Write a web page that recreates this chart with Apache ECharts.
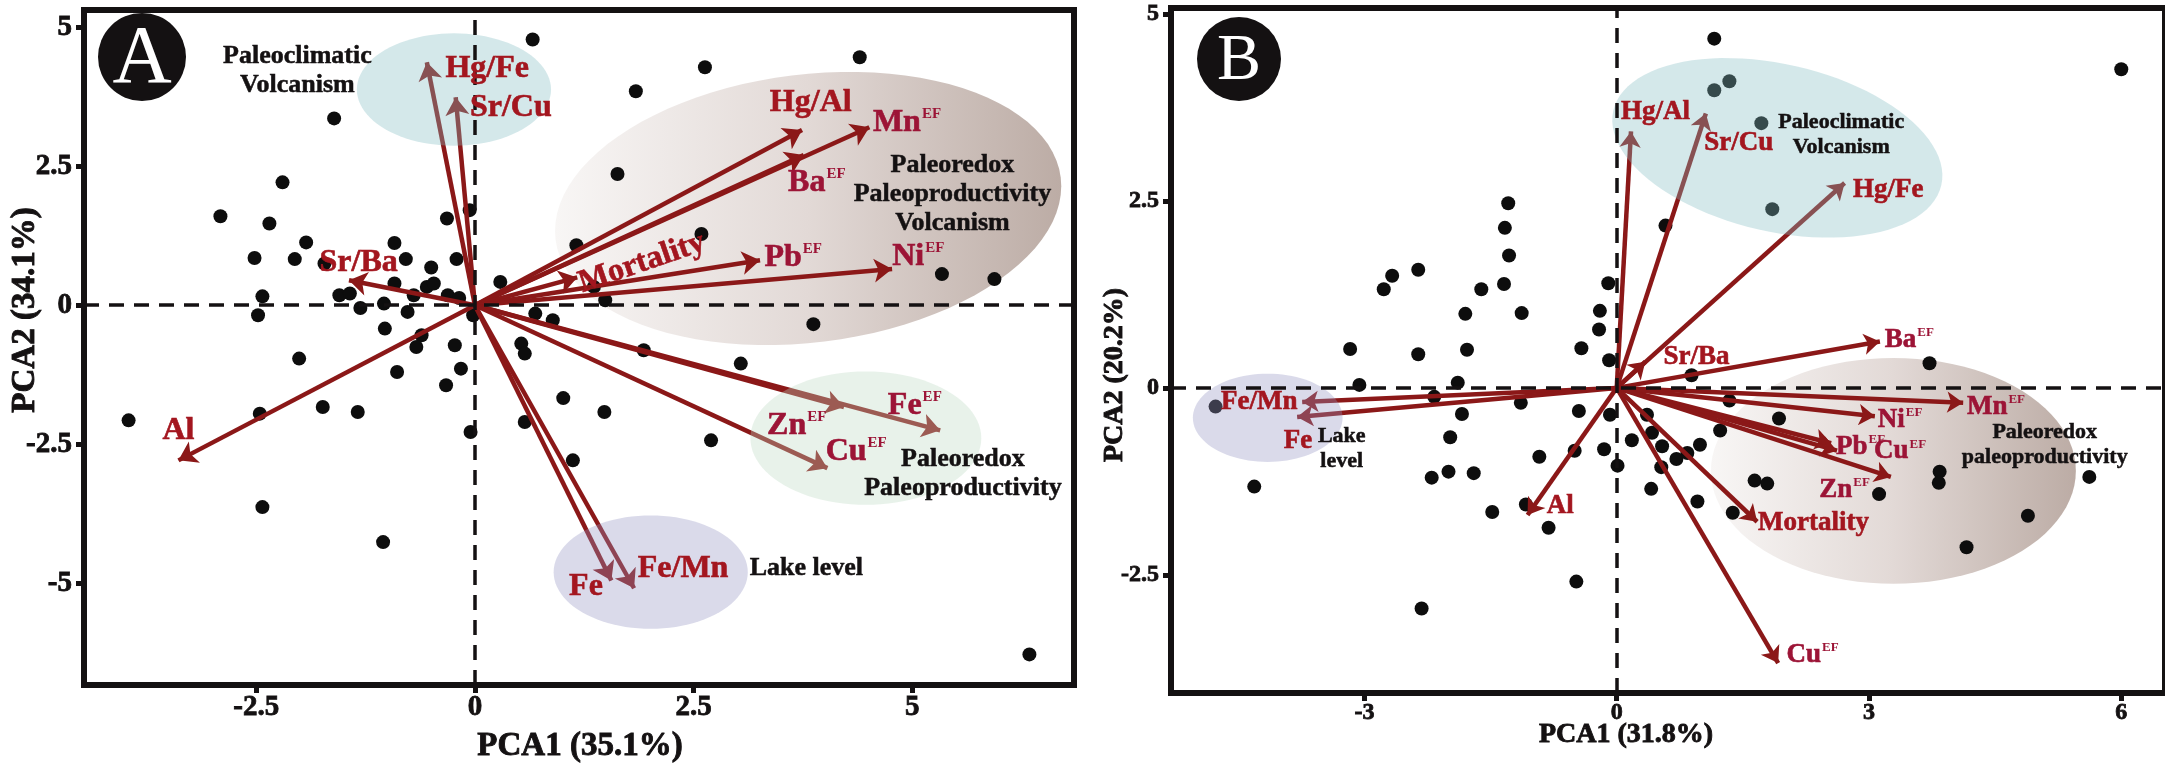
<!DOCTYPE html>
<html><head><meta charset="utf-8">
<script src="https://cdn.jsdelivr.net/npm/echarts@6/dist/echarts.min.js"></script>
<style>html,body{margin:0;padding:0;background:#fff}#c{width:2165px;height:766px}</style>
</head><body><div id="c"></div>
<script>
// ---------- Panel A data ----------
const scoresA = [
[0.66,4.78],[-1.61,3.36],[-2.20,2.21],[-2.91,1.60],[-2.35,1.47],[-1.93,1.13],[-0.32,1.56],[-0.06,1.71],[-0.92,1.12],[-2.52,0.85],[-2.06,0.83],[-1.72,0.75],[-0.79,0.83],[-0.50,0.68],[-0.21,0.83],[-2.43,0.16],[-2.48,-0.18],[-1.55,0.18],[-1.43,0.21],[-1.31,-0.05],[-1.04,0.03],[-0.92,0.39],[-0.77,-0.12],[-0.70,0.18],[-0.55,0.33],[-0.47,0.39],[-0.31,0.18],[-0.18,0.13],[-1.03,-0.42],[-0.61,-0.54],[-0.67,-0.75],[-0.23,-0.72],[-0.02,-0.18],[-2.01,-0.96],[-0.89,-1.20],[-0.16,-1.14],[-0.33,-1.44],[0.29,0.42],[0.69,-0.15],[0.89,-0.27],[0.53,-0.69],[0.57,-0.87],
[-3.96,-2.07],[-2.46,-1.95],[-1.74,-1.83],[-1.34,-1.92],[-0.05,-2.28],[0.57,-2.10],[1.01,-1.67],[-2.43,-3.63],[-1.05,-4.26],
[4.40,4.46],[2.63,4.28],[1.84,3.85],[1.63,2.36],[1.16,1.08],[2.59,1.28],[1.36,0.33],[1.49,0.09],[5.34,0.56],[5.94,0.47],[3.87,-0.34],[1.93,-0.81],[3.04,-1.05],
[1.48,-1.92],[2.70,-2.43],[1.12,-2.79],[6.34,-6.28]
];
// loading vectors: [name, x, y]
const loadingsA = [
['Hg/Fe',-0.55,4.37],['Sr/Cu',-0.22,3.74],['Sr/Ba',-1.44,0.45],['Al',-3.39,-2.79],
['Hg/Al',3.74,3.15],['MnEF',4.51,3.20],['BaEF',3.76,2.70],['Mortality',1.17,0.50],
['PbEF',3.26,0.81],['NiEF',4.77,0.65],['FeEF',5.32,-2.25],['ZnEF',4.22,-1.83],
['CuEF',4.03,-2.93],['Fe',1.56,-4.95],['Fe/Mn',1.82,-5.09]
];
// vector labels: [text, superscript, x, y]
const labelsA = [
['Hg/Fe','',0.14,4.26],['Sr/Cu','',0.41,3.56],['Sr/Ba','',-1.33,0.77],['Al','',-3.39,-2.25],
['Hg/Al','',3.84,3.65],['Mn','EF',4.94,3.29],['Ba','EF',3.91,2.21],['Mortality','',1.91,0.76],
['Pb','EF',3.64,0.85],['Ni','EF',5.07,0.87],['Fe','EF',5.03,-1.80],['Zn','EF',3.68,-2.16],
['Cu','EF',4.36,-2.64],['Fe','',1.27,-5.07],['Fe/Mn','',2.38,-4.73]
];
const groupsA = [
['Paleoclimatic\nVolcanism',-2.03,4.21],
['Paleoredox\nPaleoproductivity\nVolcanism',5.46,2.00],
['Paleoredox\nPaleoproductivity',5.58,-3.04],
['Lake level',3.79,-4.73]
];
// ellipses: [cx, cy, rx, ry, rotationDeg, kind]
const ellipsesA = [
[-0.24,3.88,1.11,1.01,0,'blue'],
[3.81,1.74,2.91,2.41,-7,'brown'],
[4.47,-2.39,1.32,1.20,0,'green'],
[2.01,-4.80,1.11,1.02,0,'lavender']
];
const ticksAx = [-2.5,0,2.5,5];
const ticksAy = [-5,-2.5,0,2.5,5];

// ---------- Panel B data ----------
const scoresB = [
[-1.29,2.47],[-1.33,2.14],[-1.28,1.77],[-1.34,1.39],[-1.61,1.32],[-1.13,1.00],[-1.80,0.99],[-1.78,0.51],[-2.36,1.58],[-2.67,1.50],[-2.77,1.32],[-2.36,0.45],[-3.17,0.52],[-3.06,0.04],[-1.89,0.07],[-0.10,1.40],[-0.20,1.03],[-0.21,0.78],[-0.42,0.53],[-0.09,0.37],
[1.16,4.67],[1.34,4.10],[1.16,3.98],[1.72,3.54],[1.85,2.39],[0.58,2.17],[6.00,4.26],[3.72,0.33],[0.89,0.17],
[-4.77,-0.25],[-4.31,-1.32],[-2.17,-0.12],[-1.84,-0.35],[-1.98,-0.66],[-2.00,-1.12],[-2.20,-1.20],[-1.70,-1.14],[-1.48,-1.66],[-1.14,-0.20],[-0.92,-0.92],[-1.08,-1.56],[-0.81,-1.87],[-0.45,-0.31],[-0.50,-0.84],[-0.15,-0.82],[-0.08,-0.36],[0.01,-1.04],[0.18,-0.70],[-0.48,-2.59],[-2.32,-2.95],
[1.34,-0.17],[0.36,-0.36],[1.93,-0.41],[1.23,-0.57],[0.42,-0.60],[0.54,-0.78],[0.99,-0.76],[0.84,-0.87],[0.71,-0.95],[0.53,-1.06],[0.41,-1.35],[0.96,-1.52],[1.64,-1.24],[1.79,-1.28],[1.38,-1.67],[3.12,-1.42],[3.84,-1.12],[3.83,-1.27],[5.62,-1.19],[4.89,-1.71],[4.16,-2.13]
];
const loadingsB = [
['Hg/Al',0.17,3.43],['Sr/Cu',1.06,3.67],['Hg/Fe',2.71,2.74],['Sr/Ba',0.34,0.35],
['BaEF',3.13,0.62],['MnEF',4.12,-0.20],['NiEF',3.07,-0.38],['PbEF',2.55,-0.74],
['CuEF',2.62,-0.84],['ZnEF',3.26,-1.19],['Mortality',1.67,-1.79],['CuEF2',1.92,-3.68],
['Al',-1.06,-1.70],['Fe/Mn',-3.74,-0.19],['Fe',-3.80,-0.39]
];
const labelsB = [
['Hg/Al','',0.46,3.69],['Sr/Cu','',1.45,3.28],['Hg/Fe','',3.23,2.65],['Sr/Ba','',0.95,0.41],
['Ba','EF',3.48,0.64],['Mn','EF',4.51,-0.25],['Ni','EF',3.37,-0.43],['Pb','EF',2.90,-0.79],
['Cu','EF',3.37,-0.85],['Zn','EF',2.71,-1.36],['Mortality','',2.34,-1.81],['Cu','EF',2.33,-3.57],
['Al','',-0.67,-1.58],['Fe/Mn','',-4.25,-0.19],['Fe','',-3.79,-0.71]
];
const groupsB = [
['Paleoclimatic\nVolcanism',2.67,3.38],
['Paleoredox\npaleoproductivity',5.09,-0.76],
['Lake\nlevel',-3.27,-0.82]
];
const ellipsesB = [
[1.91,3.21,2.00,1.12,12.8,'blue'],
[-4.15,-0.40,0.89,0.59,0,'lavender'],
[3.29,-1.11,2.17,1.51,0,'brown']
];
const ticksBx = [-3,0,3,6];
const ticksBy = [-2.5,0,2.5,5];

// ---------- styling / building ----------
const SERIF = '"Liberation Serif", "Times New Roman", serif';
const INK = '#141112';
const ARROW = '#8b1818';
const RED = '#a3161f';
const EFRED = '#9c1436';

function fills(kind){
  if (kind==='blue') return 'rgba(131,189,195,0.35)';
  if (kind==='green') return 'rgba(189,218,195,0.35)';
  if (kind==='lavender') return 'rgba(149,149,195,0.35)';
  return new echarts.graphic.LinearGradient(0,0,1,0,[
    {offset:0,color:'#f8f6f5'},
    {offset:0.5,color:'#e2d9d6'},
    {offset:1,color:'#bcaca5'}]);
}

function axisPair(gi, xr, yr, tx, ty, fs, margin){
  const common = {
    gridIndex: gi, type:'value', splitLine:{show:false},
    axisLine:{show:false, onZero:false},
  };
  const lab = {fontSize:fs, fontWeight:'bold', fontFamily:SERIF, color:INK,
    textBorderColor:INK, textBorderWidth:0.8, formatter: v => String(v)};
  const x = Object.assign({}, common, {min:xr[0], max:xr[1],
    axisTick:{show:true, customValues:tx, length:8, lineStyle:{width:5,color:INK}},
    axisLabel:Object.assign({show:true, customValues:tx, margin:margin[0]}, lab)});
  const y = Object.assign({}, common, {min:yr[0], max:yr[1],
    axisTick:{show:true, customValues:ty, length:8, lineStyle:{width:5,color:INK}},
    axisLabel:Object.assign({show:true, customValues:ty, margin:margin[1]}, lab)});
  return [x,y];
}

function ellipseSeries(gi, ells, z){
  return {
    type:'custom', xAxisIndex:gi, yAxisIndex:gi, z:z, silent:true, clip:false,
    data: ells.map(e => [e[0], e[1]]),
    encode:{x:0, y:1},
    renderItem:(params, api) => {
      const e = ells[params.dataIndex];
      const c = api.coord([e[0], e[1]]);
      const s = api.size([e[2], e[3]]);
      const th = e[4]*Math.PI/180;
      const pts = [];
      for (let i=0;i<96;i++){
        const t = i/96*Math.PI*2;
        const ex = s[0]*Math.cos(t), ey = s[1]*Math.sin(t);
        pts.push([c[0] + ex*Math.cos(th) - ey*Math.sin(th), c[1] + ex*Math.sin(th) + ey*Math.cos(th)]);
      }
      return {type:'polygon', shape:{points:pts}, style:{fill:fills(e[5])}};
    }
  };
}

function panelSeries(gi, scores, loadings, labels, groups, ells, lfs, gfs, glh, arrowSize){
  const list = [];
  list.push(ellipseSeries(gi, ells.filter(e => e[5]==='brown'), 1));
  list.push({
    type:'scatter', xAxisIndex:gi, yAxisIndex:gi, z:2, silent:true,
    symbolSize:14, itemStyle:{color:'#0d0d0d', opacity:1},
    data: scores,
    markLine:{silent:true, symbol:'none', animation:false,
      lineStyle:{type:[15,10], color:INK, width:3.5, opacity:1},
      label:{show:false},
      data:[{xAxis:0},{yAxis:0}]}
  });
  list.push({
    type:'lines', coordinateSystem:'cartesian2d', xAxisIndex:gi, yAxisIndex:gi, z:3, silent:true,
    symbol:['none','arrow'], symbolSize:arrowSize,
    lineStyle:{color:ARROW, width:4.5, opacity:1, curveness:0},
    data: loadings.map(l => ({coords:[[0,0],[l[1],l[2]]]}))
  });
  list.push(ellipseSeries(gi, ells.filter(e => e[5]!=='brown'), 4));
  list.push({
    type:'scatter', xAxisIndex:gi, yAxisIndex:gi, z:6, silent:true,
    symbolSize:0, itemStyle:{color:'rgba(0,0,0,0)', opacity:1},
    data: labels.map(l => {
      const d = {value:[l[2], l[3]], name:l[0], sup:l[1]};
      if (gi===0 && l[0]==='Mortality') d.label = {rotate:19};
      return d;
    }),
    label:{show:true, position:'inside', opacity:1,
      formatter: p => p.data.sup ? `{e|${p.data.name}}{s|${p.data.sup}}` : `{r|${p.data.name}}`,
      rich:{
        r:{fontFamily:SERIF, fontWeight:'bold', fontSize:lfs, color:RED, lineHeight:lfs, textBorderColor:RED, textBorderWidth:0.6},
        e:{fontFamily:SERIF, fontWeight:'bold', fontSize:lfs, color:EFRED, lineHeight:lfs, textBorderColor:EFRED, textBorderWidth:0.6},
        s:{fontFamily:SERIF, fontWeight:'bold', fontSize:Math.round(lfs*0.48), color:EFRED, verticalAlign:'top', lineHeight:lfs*0.5, padding:[0,0,0,1]}
      }}
  });
  list.push({
    type:'scatter', xAxisIndex:gi, yAxisIndex:gi, z:6, silent:true,
    symbolSize:0, itemStyle:{color:'rgba(0,0,0,0)', opacity:1},
    data: groups.map(g => ({value:[g[1], g[2]], name:g[0]})),
    label:{show:true, position:'inside', formatter: p => p.name, opacity:1,
      fontFamily:SERIF, fontWeight:'bold', fontSize:gfs, lineHeight:glh, color:INK, align:'center',
      textBorderColor:INK, textBorderWidth:0.5}
  });
  return list;
}

const [xA, yA] = axisPair(0, [-4.47, 6.85], [-6.83, 5.31], ticksAx, ticksAy, 29, [8, 12]);
const [xB, yB] = axisPair(1, [-5.30, 6.52], [-4.08, 5.08], ticksBx, ticksBy, 24, [8, 12]);

function title(text, x, y, fs, rot){
  return {type:'text', x:x, y:y, rotation: rot||0, z:10,
    style:{text:text, font:`bold ${fs}px ${SERIF}`, fill:INK, stroke:INK, lineWidth:0.9,
      align:'center', verticalAlign:'middle', textAlign:'center', textVerticalAlign:'middle'}};
}

const chart = echarts.init(document.getElementById('c'), null, {renderer:'canvas'});
chart.setOption({
  animation:false,
  backgroundColor:'#fff',
  grid:[
    {left:84, top:10, width:990, height:675, show:true, borderColor:INK, borderWidth:6, containLabel:false},
    {left:1171, top:8, width:1000, height:685, show:true, borderColor:INK, borderWidth:6, containLabel:false}
  ],
  xAxis:[xA, xB],
  yAxis:[yA, yB],
  series: [].concat(
    panelSeries(0, scoresA, loadingsA, labelsA, groupsA, ellipsesA, 32, 26, 29, 18),
    panelSeries(1, scoresB, loadingsB, labelsB, groupsB, ellipsesB, 27, 22, 25, 16)
  ),
  graphic:[
    {type:'circle', shape:{cx:142, cy:57, r:44}, style:{fill:INK}, z:10},
    {type:'text', x:142, y:60, z:11, style:{text:'A', font:`82px ${SERIF}`, fill:'#fff', align:'center', verticalAlign:'middle', textAlign:'center', textVerticalAlign:'middle'}},
    {type:'circle', shape:{cx:1239, cy:59, r:42}, style:{fill:INK}, z:10},
    {type:'text', x:1239, y:62, z:11, style:{text:'B', font:`66px ${SERIF}`, fill:'#fff', align:'center', verticalAlign:'middle', textAlign:'center', textVerticalAlign:'middle'}},
    title('PCA1 (35.1%)', 580, 746, 33, 0),
    title('PCA2 (34.1%)', 25, 310, 33, Math.PI/2),
    title('PCA1 (31.8%)', 1626, 735, 28, 0),
    title('PCA2 (20.2%)', 1115, 375, 28, Math.PI/2)
  ]
});
</script>
</body></html>
